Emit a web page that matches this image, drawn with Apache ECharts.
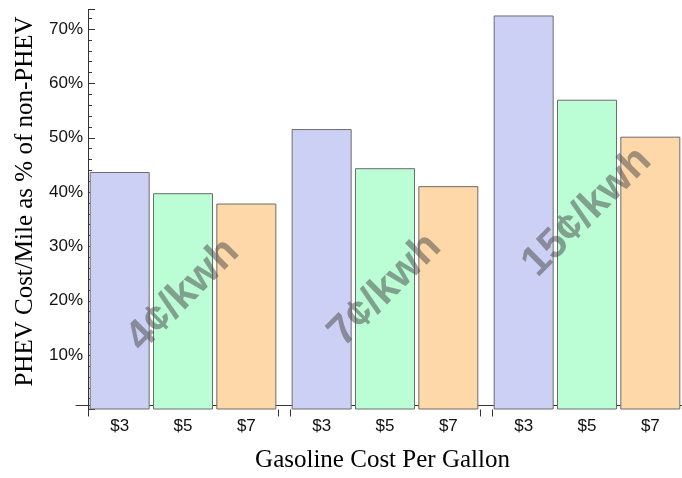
<!DOCTYPE html>
<html>
<head>
<meta charset="utf-8">
<script src="https://cdn.jsdelivr.net/npm/echarts@6/dist/echarts.min.js"></script>
<style>
html,body{margin:0;padding:0;background:#fff;}
#chart{width:682px;height:478px;}
</style>
</head>
<body>
<div id="chart"></div>
<script>
// ---- data ----
const gasCategories = ['$3', '$5', '$7'];
const ratio4c = [43.7, 39.8, 37.9];
const ratio7c = [51.6, 44.4, 41.1];
const ratio15c = [72.5, 57.0, 50.2];
const rateLabels = ['4¢/kwh', '7¢/kwh', '15¢/kwh'];
const yAxisTitle = 'PHEV Cost/Mile as % of non-PHEV';
const xAxisTitle = 'Gasoline Cost Per Gallon';

// ---- styling ----
const barColors = ['#CCD0F4', '#BBFDD4', '#FED8A8'];
const axisColor = '#333';
const Y_MAX = 73.6;
const groups = [ratio4c, ratio7c, ratio15c];
const gridLefts = [88, 290, 492];
const GRID_TOP = 9.5, GRID_H = 400, GRID_W = 190;

const grids = gridLefts.map(l => ({left: l, top: GRID_TOP, width: GRID_W, height: GRID_H}));
grids.push({left: 76, top: GRID_TOP, width: 606, height: GRID_H}); // frame

const xAxes = groups.map((g, i) => ({
  type: 'category', gridIndex: i, data: gasCategories,
  axisLine: {show: false},
  axisTick: {show: true, interval: function (idx) { return idx === 0; }, length: 7, lineStyle: {color: axisColor, width: 1}},
  axisLabel: {interval: 0, margin: 8, fontSize: 17, fontFamily: 'Liberation Sans', color: '#111'}
}));
xAxes.push({
  type: 'value', gridIndex: 3, min: 0, max: 1,
  axisLine: {show: true, lineStyle: {color: axisColor, width: 1}},
  axisTick: {show: false}, axisLabel: {show: false}, splitLine: {show: false},
  name: xAxisTitle, nameLocation: 'middle', nameGap: 43,
  nameTextStyle: {fontSize: 25, fontFamily: 'Liberation Serif', color: '#000', padding: [0, 0, 0, 7]}
});

const yAxes = groups.map((g, i) => {
  if (i === 0) {
    return {
      type: 'value', gridIndex: 0, min: 0, max: Y_MAX, interval: 10,
      axisLine: {show: true, lineStyle: {color: axisColor, width: 1}},
      axisTick: {show: true, inside: true, length: 7, lineStyle: {color: axisColor}},
      minorTick: {show: true, splitNumber: 5, length: 4, lineStyle: {color: axisColor}},
      splitLine: {show: false}, minorSplitLine: {show: false},
      axisLabel: {showMaxLabel: false, margin: 5, fontSize: 17, fontFamily: 'Liberation Sans', color: '#111',
        formatter: v => v === 0 ? '' : v + '%'},
      name: yAxisTitle, nameLocation: 'middle', nameGap: 50, nameRotate: 90,
      nameTextStyle: {fontSize: 25, fontFamily: 'Liberation Serif', color: '#000', padding: [0, 0, 0, 16]}
    };
  }
  return {type: 'value', gridIndex: i, min: 0, max: Y_MAX, show: false};
});
yAxes.push({type: 'value', gridIndex: 3, show: false, min: 0, max: 1});

const series = groups.map((g, i) => ({
  type: 'bar', xAxisIndex: i, yAxisIndex: i, barWidth: 60,
  data: g.map((v, k) => ({value: v, itemStyle: {color: barColors[k]}})),
  itemStyle: {borderColor: '#6c6c6c', borderWidth: 1}
}));

const wmPos = [[183, 295], [385, 290], [587, 212]];
const graphic = rateLabels.map((t, i) => ({
  type: 'text', x: wmPos[i][0], y: wmPos[i][1], rotation: Math.PI / 4, z: 100,
  style: {text: t, font: 'bold 42px "Liberation Sans"', fill: 'rgba(70,70,70,0.5)', align: 'center', verticalAlign: 'middle'}
}));

const chart = echarts.init(document.getElementById('chart'), null, {renderer: 'canvas'});
chart.setOption({
  animation: false,
  backgroundColor: '#fff',
  grid: grids, xAxis: xAxes, yAxis: yAxes, series: series, graphic: graphic
});
</script>
</body>
</html>
